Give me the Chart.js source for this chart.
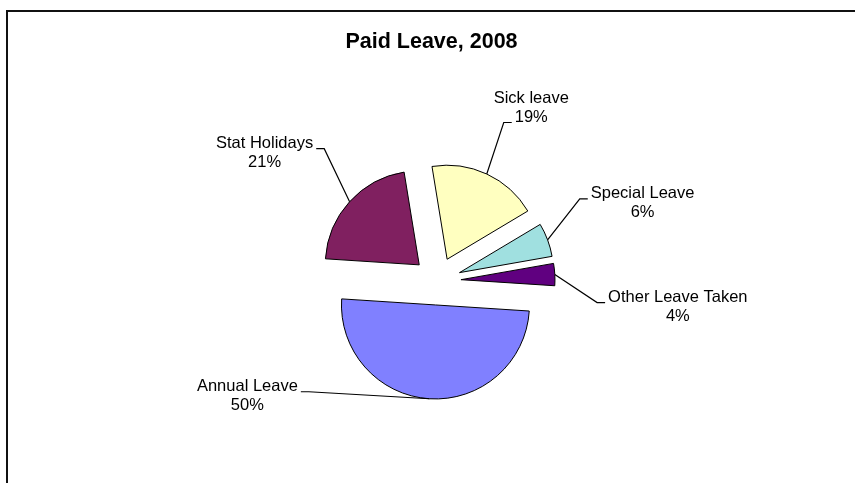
<!DOCTYPE html>
<html>
<head>
<meta charset="utf-8">
<title>Paid Leave, 2008</title>
<script src="https://cdn.jsdelivr.net/npm/chart.js@4.4.1/dist/chart.umd.min.js"></script>
<style>
    html, body { margin: 0; padding: 0; background: #fff; }
    canvas { display: block; }
</style>
</head>
<body>
<canvas id="leaveChart" width="855" height="483"></canvas>
<script>
var chartTitle = 'Paid Leave, 2008';
var categories = ['Annual Leave', 'Stat Holidays', 'Sick leave', 'Special Leave', 'Other Leave Taken'];
var leaveShare = [50.0, 21.4, 19.0, 5.8, 3.8];
var sliceColors = ['rgb(128, 128, 255)', 'rgb(128, 32, 96)', 'rgb(255, 255, 192)', 'rgb(160, 224, 224)', 'rgb(96, 0, 128)'];

var labelFont = '16.5px "Liberation Sans", Arial, sans-serif';

// Chart.js 4 only moves a wedge by offset/4 and grows its radius too;
// Excel pulls every wedge straight out, so shift the centre instead.
var arcDraw = Chart.ArcElement.prototype.draw;
Chart.ArcElement.prototype.draw = function (ctx) {
    var shift = this.options.offset || 0;
    if (!shift) {
        return arcDraw.call(this, ctx);
    }
    var mid = (this.startAngle + this.endAngle) / 2;
    var opts = this.options;
    var x = this.x, y = this.y;
    this.x = x + Math.cos(mid) * shift;
    this.y = y + Math.sin(mid) * shift;
    this.options = Object.assign({}, opts, { offset: 0 });
    arcDraw.call(this, ctx);
    this.x = x;
    this.y = y;
    this.options = opts;
};

const framePlugin = {
    id: 'frame',
    beforeDraw(chart) {
        const ctx = chart.ctx;
        ctx.save();
        ctx.fillStyle = '#fff';
        ctx.fillRect(0, 0, chart.width, chart.height);
        ctx.strokeStyle = '#111';
        ctx.lineWidth = 2;
        ctx.strokeRect(7, 11, chart.width + 20, chart.height + 20);
        ctx.restore();
    },
    afterDraw(chart) {
        const ctx = chart.ctx;
        ctx.save();
        ctx.fillStyle = '#000';
        ctx.font = 'bold 21.5px "Liberation Sans", Arial, sans-serif';
        ctx.textAlign = 'center';
        ctx.textBaseline = 'alphabetic';
        ctx.fillText(chartTitle, 431.5, 48);
        ctx.restore();
    }
};

const sliceLabelPlugin = {
    id: 'sliceLabels',
    afterDatasetsDraw(chart, args, opts) {
        const ctx = chart.ctx;
        const meta = chart.getDatasetMeta(0);
        const values = chart.data.datasets[0].data;
        const total = values.reduce((a, b) => a + b, 0);
        ctx.save();
        ctx.font = labelFont;
        ctx.fillStyle = '#000';
        ctx.strokeStyle = '#000';
        ctx.lineWidth = 1.2;
        ctx.textAlign = 'center';
        ctx.textBaseline = 'alphabetic';
        meta.data.forEach((arc, i) => {
            const p = arc.getProps(['x', 'y', 'startAngle', 'endAngle', 'outerRadius']);
            const mid = (p.startAngle + p.endAngle) / 2;
            const shift = arc.options.offset || 0;
            const ax = p.x + Math.cos(mid) * (shift + p.outerRadius);
            const ay = p.y + Math.sin(mid) * (shift + p.outerRadius);
            const place = opts.placement[i];
            const cx = ax + place.dx;
            const base = ay + place.dy;
            const lines = [chart.data.labels[i], Math.round(values[i] / total * 100) + '%'];

            const w = ctx.measureText(lines[place.attach]).width;
            const ly = base + place.attach * opts.lineHeight + 1;
            const side = ax < cx ? -1 : 1;
            const endX = cx + side * (w / 2 + 3);
            const stubX = endX + side * 8;
            ctx.beginPath();
            ctx.moveTo(ax, ay);
            ctx.lineTo(stubX, ly);
            ctx.lineTo(endX, ly);
            ctx.stroke();

            lines.forEach((t, k) => ctx.fillText(t, cx, base + k * opts.lineHeight));
        });
        ctx.restore();
    }
};

const leaveConfig = {
    type: 'pie',
    data: {
        labels: categories,
        datasets: [
            {
                data: leaveShare,
                backgroundColor: sliceColors,
                borderColor: '#000',
                borderWidth: 1,
                borderJoinStyle: 'miter',
                offset: 24,
                hoverOffset: 0,
            }
        ],
    },
    options: {
        responsive: false,
        animation: false,
        events: [],
        rotation: 93.7,
        radius: 94,
        layout: { padding: { left: 100, right: 81, top: 120, bottom: 41 } },
        plugins: {
            legend: { display: false },
            tooltip: { enabled: false },
            title: { display: false },
            sliceLabels: {
                lineHeight: 19,
                placement: [
                    { dx: -182, dy: -8, attach: 0 },
                    { dx: -85, dy: -54, attach: 0 },
                    { dx: 44.5, dy: -71.5, attach: 1 },
                    { dx: 95, dy: -42, attach: 0 },
                    { dx: 123, dy: 27, attach: 0 },
                ],
            },
        },
    },
    plugins: [framePlugin, sliceLabelPlugin],
};

const leaveChart = new Chart(document.getElementById('leaveChart'), leaveConfig);
</script>
</body>
</html>
